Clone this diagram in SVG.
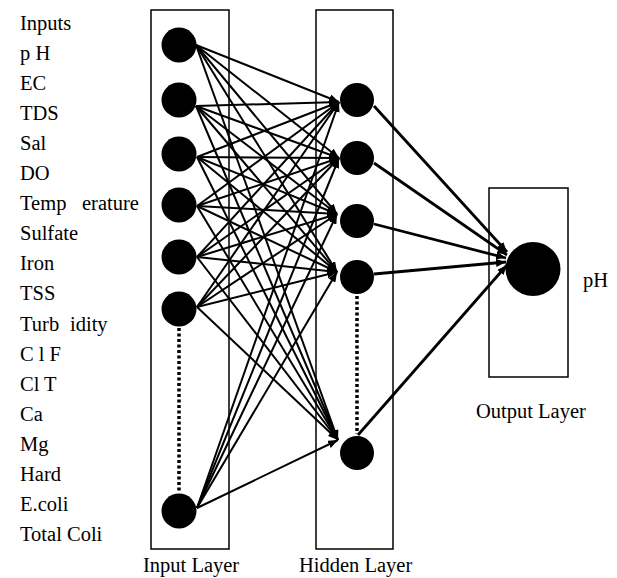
<svg xmlns="http://www.w3.org/2000/svg" width="617" height="578" viewBox="0 0 617 578">
<style>
text{font-family:"Liberation Serif","Times New Roman",serif;font-size:20.5px;fill:#000}
.box{fill:none;stroke:#000;stroke-width:1.5}
.n{fill:#000}
.c1{stroke:#000;stroke-width:2;fill:none;marker-end:url(#ah)}
.c2{stroke:#000;stroke-width:2.8;fill:none;marker-end:url(#ah2)}
.dot{stroke:#000;stroke-width:3.5;stroke-dasharray:3 2.5;fill:none}
</style>
<defs>
<marker id="ah" markerUnits="userSpaceOnUse" markerWidth="10" markerHeight="8" refX="10" refY="4" orient="auto"><path d="M0,0 L10,4 L0,8 z" fill="#000"/></marker>
<marker id="ah2" markerUnits="userSpaceOnUse" markerWidth="10" markerHeight="8" refX="10" refY="4" orient="auto"><path d="M0,0 L10,4 L0,8 z" fill="#000"/></marker>
</defs>
<rect width="617" height="578" fill="#fff"/>
<g id="labels">
<text x="20" y="30">Inputs</text>
<text x="20" y="60">p H</text>
<text x="20" y="90">EC</text>
<text x="20" y="120">TDS</text>
<text x="20" y="150">Sal</text>
<text x="20" y="180">DO</text>
<text x="20" y="210">Temp<tspan x="82">erature</tspan></text>
<text x="20" y="240">Sulfate</text>
<text x="20" y="270">Iron</text>
<text x="20" y="300">TSS</text>
<text x="20" y="331">Turb<tspan x="70">idity</tspan></text>
<text x="20" y="361">C l F</text>
<text x="20" y="391">Cl T</text>
<text x="20" y="421">Ca</text>
<text x="20" y="451">Mg</text>
<text x="20" y="481">Hard</text>
<text x="20" y="511">E.coli</text>
<text x="20" y="541">Total Coli</text>
</g>
<g id="input-layer">
<rect class="box" x="151" y="10" width="78" height="539"/>
<text x="143" y="572">Input Layer</text>
</g>
<g id="hidden-layer">
<rect class="box" x="316" y="10" width="77" height="539"/>
<text x="299" y="572">Hidden Layer</text>
</g>
<g id="output-layer">
<rect class="box" x="489" y="188" width="79" height="189"/>
<text x="476" y="418">Output Layer</text>
<text x="583" y="287">pH</text>
</g>
<g id="connectors">
<line class="dot" x1="179" y1="328" x2="179" y2="493"/>
<line class="dot" x1="357" y1="296" x2="357" y2="434"/>
<line class="c1" x1="196" y1="45" x2="339" y2="102"/>
<line class="c1" x1="196" y1="45" x2="339" y2="158"/>
<line class="c1" x1="196" y1="45" x2="337" y2="214"/>
<line class="c1" x1="196" y1="45" x2="337" y2="272"/>
<line class="c1" x1="196" y1="45" x2="338" y2="440"/>
<line class="c1" x1="196" y1="106" x2="339" y2="102"/>
<line class="c1" x1="196" y1="106" x2="339" y2="158"/>
<line class="c1" x1="196" y1="106" x2="337" y2="214"/>
<line class="c1" x1="196" y1="106" x2="337" y2="272"/>
<line class="c1" x1="196" y1="106" x2="338" y2="440"/>
<line class="c1" x1="197" y1="157" x2="339" y2="102"/>
<line class="c1" x1="197" y1="157" x2="339" y2="158"/>
<line class="c1" x1="197" y1="157" x2="337" y2="214"/>
<line class="c1" x1="197" y1="157" x2="337" y2="272"/>
<line class="c1" x1="197" y1="157" x2="338" y2="440"/>
<line class="c1" x1="197" y1="206" x2="339" y2="102"/>
<line class="c1" x1="197" y1="206" x2="339" y2="158"/>
<line class="c1" x1="197" y1="206" x2="337" y2="214"/>
<line class="c1" x1="197" y1="206" x2="337" y2="272"/>
<line class="c1" x1="197" y1="206" x2="338" y2="440"/>
<line class="c1" x1="197" y1="257" x2="339" y2="102"/>
<line class="c1" x1="197" y1="257" x2="339" y2="158"/>
<line class="c1" x1="197" y1="257" x2="337" y2="214"/>
<line class="c1" x1="197" y1="257" x2="337" y2="272"/>
<line class="c1" x1="197" y1="257" x2="338" y2="440"/>
<line class="c1" x1="197" y1="307" x2="339" y2="102"/>
<line class="c1" x1="197" y1="307" x2="339" y2="158"/>
<line class="c1" x1="197" y1="307" x2="337" y2="214"/>
<line class="c1" x1="197" y1="307" x2="337" y2="272"/>
<line class="c1" x1="197" y1="307" x2="338" y2="440"/>
<line class="c1" x1="197" y1="508" x2="339" y2="102"/>
<line class="c1" x1="197" y1="508" x2="339" y2="158"/>
<line class="c1" x1="197" y1="508" x2="337" y2="214"/>
<line class="c1" x1="197" y1="508" x2="337" y2="272"/>
<line class="c1" x1="197" y1="508" x2="338" y2="440"/>
<line class="c2" x1="374" y1="106" x2="507" y2="252"/>
<line class="c2" x1="374" y1="163" x2="507" y2="255"/>
<line class="c2" x1="374" y1="224" x2="506" y2="258"/>
<line class="c2" x1="374" y1="274" x2="506" y2="262"/>
<line class="c2" x1="358" y1="435" x2="507" y2="265"/>
</g>
<g id="in1"><circle class="n" cx="179" cy="45" r="17.5"/></g>
<g id="in2"><circle class="n" cx="179" cy="100" r="17.5"/></g>
<g id="in3"><circle class="n" cx="179" cy="154" r="17.5"/></g>
<g id="in4"><circle class="n" cx="179" cy="205" r="17.5"/></g>
<g id="in5"><circle class="n" cx="179" cy="257" r="17.5"/></g>
<g id="in6"><circle class="n" cx="179" cy="309" r="17.5"/></g>
<g id="in7"><circle class="n" cx="179" cy="511" r="17.5"/></g>
<g id="h1"><circle class="n" cx="357" cy="100" r="17"/></g>
<g id="h2"><circle class="n" cx="357" cy="158" r="17"/></g>
<g id="h3"><circle class="n" cx="357" cy="221" r="17"/></g>
<g id="h4"><circle class="n" cx="357" cy="277" r="17"/></g>
<g id="h5"><circle class="n" cx="357" cy="453" r="17"/></g>
<g id="out"><ellipse class="n" cx="533" cy="269" rx="27.5" ry="27"/></g>
</svg>
